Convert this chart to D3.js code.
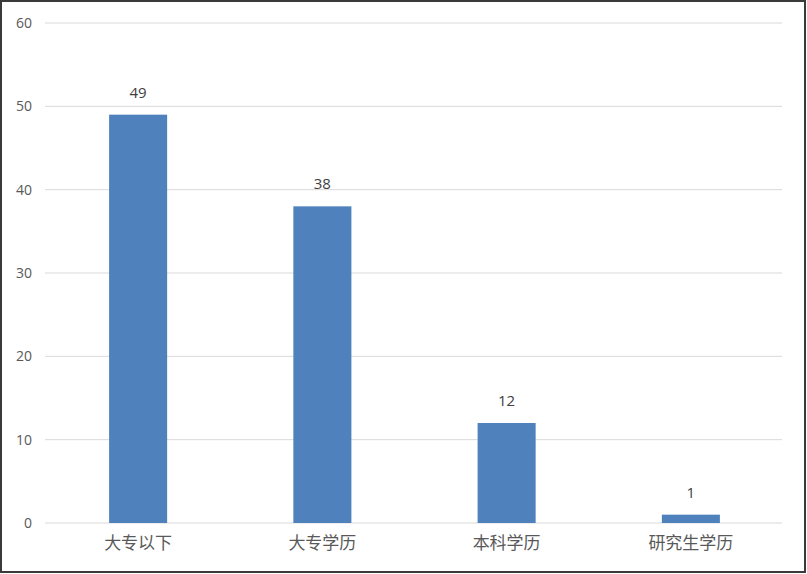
<html>
<head>
    <meta charset="utf-8">
    <script src="https://d3js.org/d3.v7.min.js"></script>
    <style>
        body { margin: 0; background: #fff; }
    </style>
</head>
<body>
    <svg id="chart" width="807" height="574"></svg>
    <script>
    const categories = ["大专以下", "大专学历", "本科学历", "研究生学历"];
    const values = [49, 38, 12, 1];
    const yTicks = [0, 10, 20, 30, 40, 50, 60];

    const svg = d3.select("#chart");
    const width = +svg.attr("width");
    const height = +svg.attr("height");
    const margin = { top: 23, right: 25, bottom: 51, left: 45 };
    const plotW = width - margin.left - margin.right;
    const plotH = height - margin.top - margin.bottom;

    // frame round the picture
    svg.append("rect")
        .attr("x", 1).attr("y", 1)
        .attr("width", width - 3).attr("height", height - 3)
        .style("fill", "white")
        .style("stroke", "#3a3a3a")
        .style("stroke-width", 2);

    const g = svg.append("g")
        .attr("transform", `translate(${margin.left},${margin.top})`);

    const x = d3.scaleBand()
        .domain(categories)
        .range([1, plotW + 1])
        .paddingInner(0.685)
        .paddingOuter(0.3425);

    const y = d3.scaleLinear()
        .domain([0, 60])
        .range([plotH, 0]);

    // gridlines
    g.selectAll("line.grid").data(yTicks)
        .join("line")
        .attr("class", "grid")
        .attr("x1", 0).attr("x2", plotW)
        .attr("y1", d => y(d)).attr("y2", d => y(d))
        .style("stroke", "#d9d9d9")
        .style("stroke-width", 1);

    // y labels
    g.selectAll("text.ytick").data(yTicks)
        .join("text")
        .attr("class", "ytick")
        .attr("x", -13)
        .attr("y", d => y(d))
        .attr("dy", "0.35em")
        .attr("text-anchor", "end")
        .style("font-family", "'Open Sans', 'Liberation Sans', sans-serif")
        .style("font-size", "14px")
        .style("fill", "#595959")
        .text(d => d);

    g.selectAll("rect.bar").data(values)
        .join("rect")
        .attr("class", "bar")
        .attr("x", (d, i) => x(categories[i]))
        .attr("y", d => y(d))
        .attr("width", x.bandwidth())
        .attr("height", d => plotH - y(d))
        .style("fill", "#4f81bd");

    g.selectAll("text.val").data(values)
        .join("text")
        .attr("class", "val")
        .attr("x", (d, i) => x(categories[i]) + x.bandwidth() / 2)
        .attr("y", d => y(d) - 17)
        .attr("text-anchor", "middle")
        .style("font-family", "'Open Sans', 'Liberation Sans', sans-serif")
        .style("font-size", "15px")
        .style("fill", "#404040")
        .text(d => d);

    // category axis
    const xAxis = g.append("g")
        .attr("transform", `translate(0,${plotH})`)
        .call(d3.axisBottom(x).tickSize(0).tickPadding(14));
    xAxis.select(".domain").remove();
    xAxis.selectAll("text")
        .style("font-family", "'Noto Sans CJK SC', sans-serif")
        .style("font-size", "17px")
        .style("fill", "#595959");
    </script>
</body>
</html>
